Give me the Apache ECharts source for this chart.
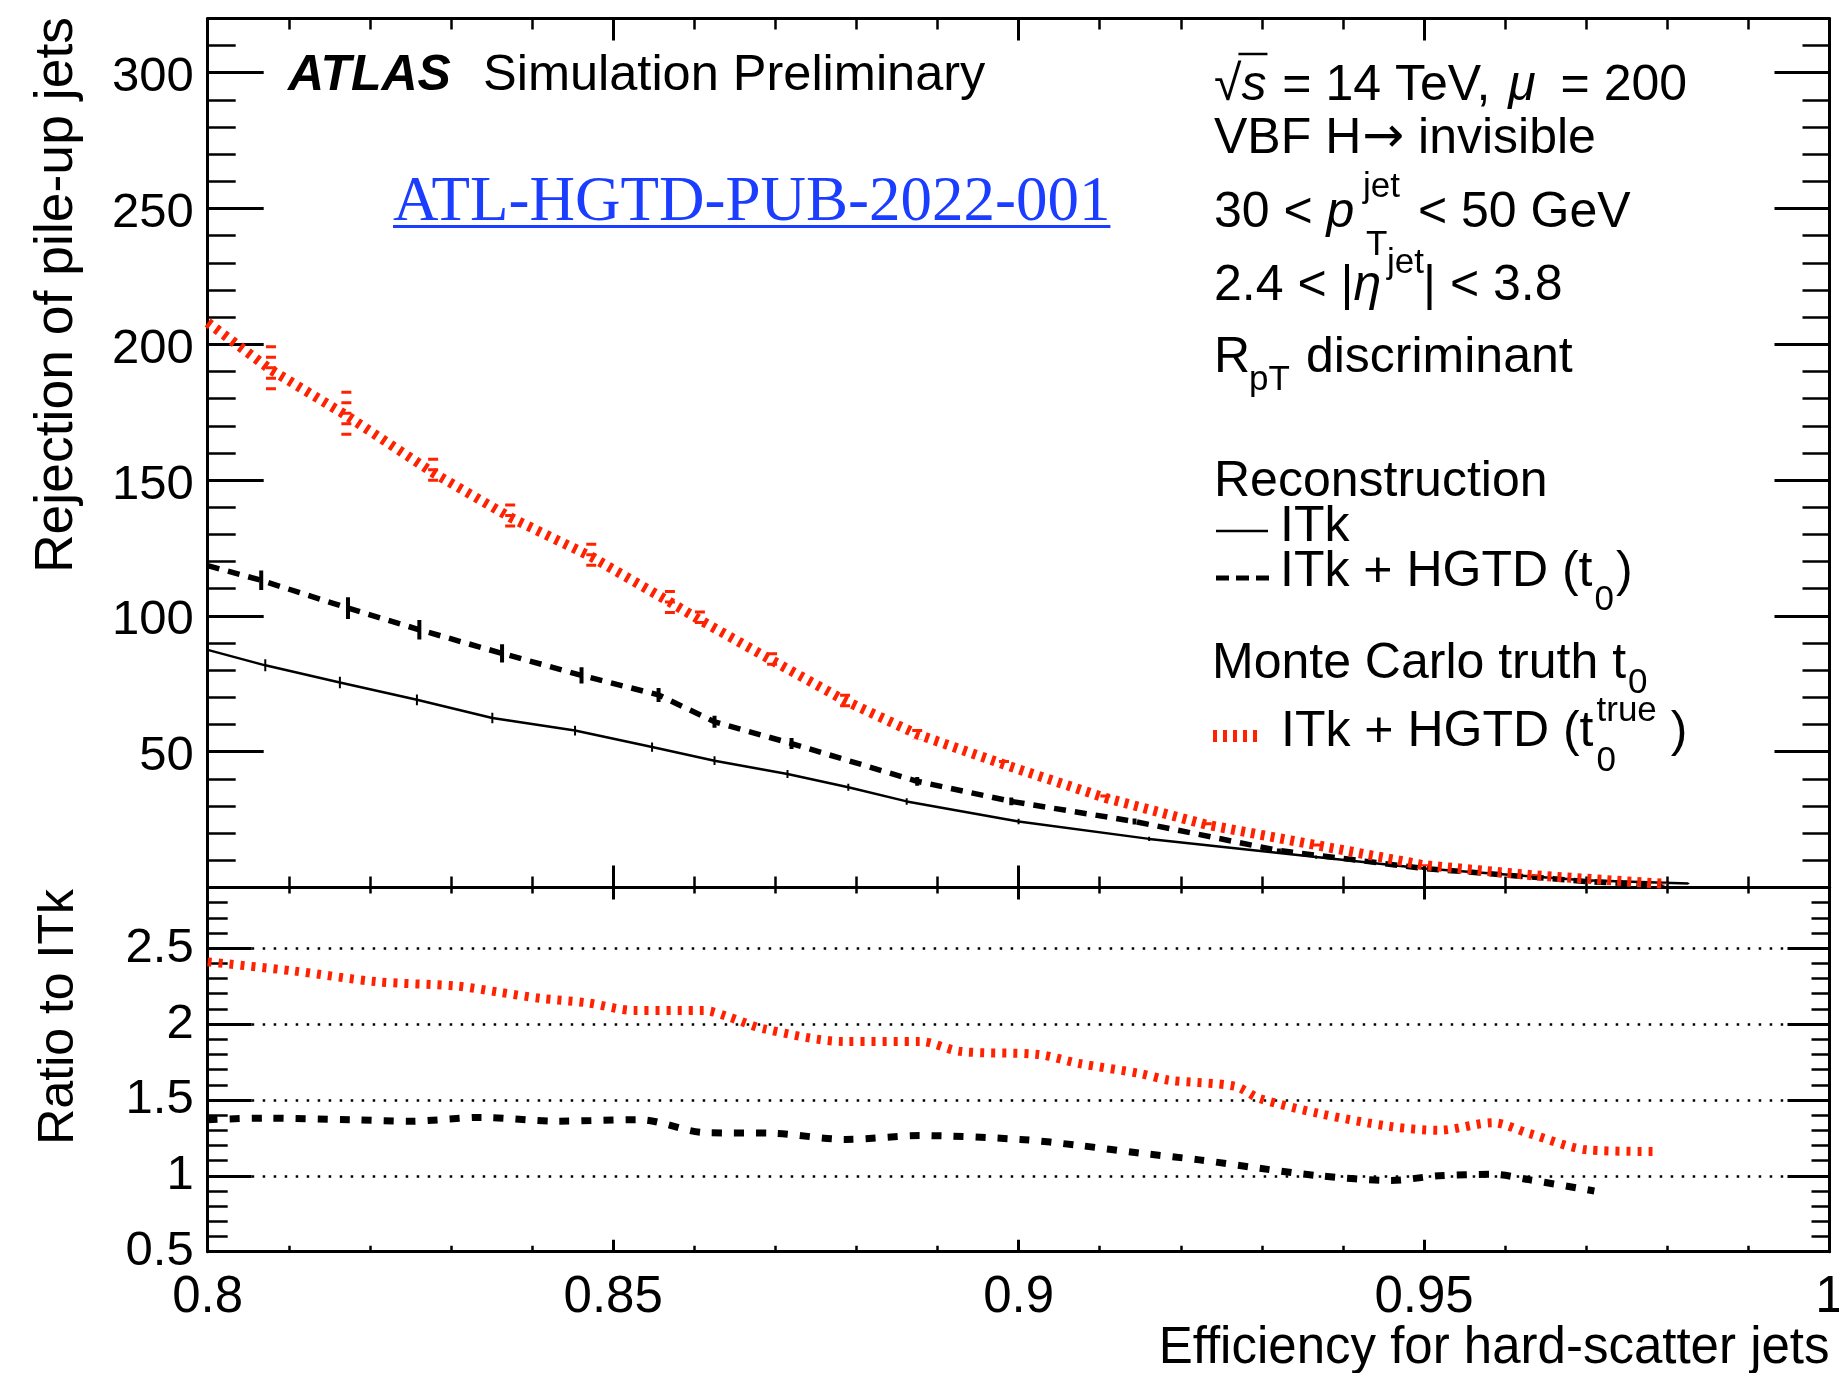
<!DOCTYPE html>
<html><head><meta charset="utf-8">
<script src="https://cdn.jsdelivr.net/npm/echarts@6.0.0/dist/echarts.min.js"></script>
<style>html,body{margin:0;padding:0;background:#fff}#c{width:1839px;height:1373px}</style>
</head><body><div id="c"></div>
<script>
// ---------------- data ----------------
// Upper panel: rejection vs efficiency
const itkX   = [0.800,0.8071,0.8163,0.8258,0.8351,0.8453,0.8548,0.8625,0.8715,0.8790,0.8862,0.9000,0.9161,0.9367,0.9500,0.9697,0.9826];
const itkY   = [87.5,81.8,75.5,69.1,62.4,57.8,51.7,46.7,41.8,36.9,31.7,24.3,17.9,11.2,7.0,2.7,1.5];
const itkErr = [0,2.2,2.1,2.0,1.9,1.8,1.7,1.6,1.5,1.3,1.2,1.0,0.8,0.6,0.5,0.3,0.2];

const hgtdX   = [0.800,0.8066,0.8173,0.8261,0.8363,0.8461,0.8556,0.8625,0.8720,0.8875,0.8991,0.9143,0.9321,0.9500,0.9705,0.9794];
const hgtdY   = [118.5,113.1,102.9,94.9,86.2,78.1,70.9,61.0,53.0,39.1,31.7,24.3,13.6,7.0,2.1,0.8];
const hgtdErr = [0,3.6,4.0,3.6,3.4,3.0,2.6,2.2,2.0,1.6,1.4,1.1,0.8,0.6,0.3,0.2];

const truthX   = [0.800,0.8078,0.8171,0.8278,0.8373,0.8473,0.8570,0.8607,0.8696,0.8786,0.8875,0.8982,0.9107,0.9232,0.9367,0.9500,0.9634,0.9794];
const truthY   = [208,190.6,173.8,152.7,136.3,121.8,105.1,98.5,83.6,68.8,56.4,45.3,33.0,23.1,15.6,8.2,4.5,1.4];
const truthErr = [0,9.1,9.1,5.5,5.1,5.1,4.4,3.5,3.0,2.5,2.0,1.6,1.2,0.9,0.6,0.4,0.3,0.2];

// Lower panel: ratio to ITk
const ratioTruthX = [0.8,0.8106,0.8207,0.8308,0.8359,0.8410,0.8468,0.8526,0.8612,0.8641,0.8685,0.8786,0.8879,0.8928,0.9024,0.9075,0.9149,0.9186,0.9267,0.9297,0.9371,0.9459,0.9518,0.9585,0.9629,0.9703,0.9788];
const ratioTruthY = [2.41,2.35,2.28,2.25,2.21,2.17,2.14,2.09,2.09,2.05,1.97,1.885,1.885,1.82,1.80,1.74,1.675,1.63,1.59,1.51,1.41,1.325,1.30,1.35,1.28,1.17,1.16];
const ratioHgtdX  = [0.8,0.807,0.8178,0.825,0.8337,0.8431,0.8533,0.8612,0.8699,0.8786,0.8879,0.9002,0.9075,0.9149,0.9223,0.9297,0.9371,0.9459,0.9518,0.9585,0.9629,0.9710];
const ratioHgtdY  = [1.37,1.38,1.37,1.36,1.385,1.36,1.37,1.285,1.28,1.24,1.265,1.24,1.20,1.15,1.105,1.05,1.00,0.97,1.00,1.01,0.975,0.90];

// axis ranges / tick labels
const xRange = [0.8, 1.0];
const xTickLabels = ['0.8','0.85','0.9','0.95','1'];
const upperRange = [0, 320];
const ratioRange = [0.5, 2.9];

// ---------------- helpers ----------------
const SANS = "'Liberation Sans', Arial, Helvetica, sans-serif";
const SERIF = "'Liberation Serif', 'Times New Roman', serif";
const DEJAVU = "'DejaVu Sans', sans-serif";
const MID = 0.27, MIDSERIF = 0.255;
const RED = '#ff2200', BLUE = '#1a3dff';
const zip = (a, b) => a.map((v, i) => [v, b[i]]);
const zip3 = (a, b, c) => a.map((v, i) => [v, b[i], c[i]]);
const fmt = v => String(+(+v).toFixed(2));

const ctx = document.createElement('canvas').getContext('2d');
function fontOf(g) { return (g.it ? 'italic ' : '') + (g.b ? 'bold ' : '') + g.s + 'px ' + (g.f || SANS); }
function textRun(x0, base, segs) {
  const els = []; let x = x0; let maxX = x0;
  segs.forEach(g => {
    g.s = g.s || 50;
    if (g.x != null) x = g.x;
    if (g.atMax) x = maxX;
    x += g.dx || 0;
    const font = fontOf(g);
    ctx.font = font;
    const w = ctx.measureText(g.t).width;
    const mid = (g.f === SERIF) ? MIDSERIF : MID;
    els.push({ type: 'text', x: x, y: base + (g.dy || 0) - mid * g.s, silent: true, z: 50,
      style: { text: g.t, font: font, fill: g.c || '#000', align: 'left', verticalAlign: 'middle',
               textAlign: 'left', textVerticalAlign: 'middle' } });
    g._x0 = x; g._x1 = x + w;
    maxX = Math.max(maxX, x + w);
    if (!g.keep) x += w;
  });
  return els;
}
function hline(x1, x2, y, color, width, dash) {
  return { type: 'line', silent: true, z: 50, shape: { x1: x1, y1: y, x2: x2, y2: y },
    style: { stroke: color, lineWidth: width, lineDash: dash || null } };
}

// ---------------- graphic texts ----------------
const graphics = [];
graphics.push(...textRun(288, 90, [{ t: 'ATLAS', b: true, it: true }, { t: 'Simulation Preliminary', x: 483, s: 50.5 }]));
const linkSeg = [{ t: 'ATL-HGTD-PUB-2022-001', f: SERIF, s: 63, c: BLUE }];
graphics.push(...textRun(393, 220, linkSeg));
graphics.push(hline(linkSeg[0]._x0, linkSeg[0]._x1, 226.5, BLUE, 3));

const l1 = [{ t: '√' }, { t: 's', it: true }, { t: ' = 14 TeV, ', dx: 2 }, { t: 'μ', it: true, dx: 4 }, { t: ' = 200', dx: 11 }];
graphics.push(...textRun(1214, 100, l1));
graphics.push(hline(l1[0]._x1 - 3, l1[1]._x1 + 1, 54, '#000', 2.5));
graphics.push(...textRun(1214, 153, [{ t: 'VBF H' }, { t: '→', f: DEJAVU, dx: 1 }, { t: ' invisible' }]));
graphics.push(...textRun(1214, 227, [{ t: '30 < ' }, { t: 'p', it: true },
  { t: 'jet', s: 35, dy: -30, x: 1363 }, { t: 'T', s: 35, dy: 28, x: 1366 }, { t: ' < 50 GeV', x: 1404 }]));
graphics.push(...textRun(1214, 300, [{ t: '2.4 < |' }, { t: 'η', it: true },
  { t: 'jet', s: 35, dy: -27, x: 1387 }, { t: '| < 3.8', x: 1423 }]));
graphics.push(...textRun(1214, 372, [{ t: 'R' }, { t: 'pT', s: 35, dy: 18, x: 1249 }, { t: ' discriminant', x: 1292 }]));

graphics.push(...textRun(1214, 496, [{ t: 'Reconstruction' }]));
graphics.push(...textRun(1280, 541, [{ t: 'ITk' }]));
graphics.push(...textRun(1280, 586, [{ t: 'ITk + HGTD (t' }, { t: '0', s: 35, dy: 24, dx: 2 }, { t: ')', dx: 2 }]));
graphics.push(...textRun(1212, 678, [{ t: 'Monte Carlo truth t' }, { t: '0', s: 35, dy: 15, dx: 2 }]));
graphics.push(...textRun(1281, 746, [{ t: 'ITk + HGTD (t' }, { t: 'true', s: 35, dy: -25, dx: 3, keep: true },
  { t: '0', s: 35, dy: 25 }, { t: ' )', atMax: true }]));

// legend samples
graphics.push(hline(1216, 1268, 531, '#000', 2.5));
graphics.push(hline(1216, 1270, 578, '#000', 5, [13, 7]));
graphics.push(hline(1213, 1262, 736, RED, 12, [4, 6]));

// axis titles
graphics.push({ type: 'text', x: 57, y: 17, rotation: Math.PI / 2, silent: true, z: 50,
  style: { text: 'Rejection of pile-up jets', font: '53.5px ' + SANS, fill: '#000', align: 'right', verticalAlign: 'middle',
           textAlign: 'right', textVerticalAlign: 'middle' } });
graphics.push({ type: 'text', x: 59, y: 889, rotation: Math.PI / 2, silent: true, z: 50,
  style: { text: 'Ratio to ITk', font: '50px ' + SANS, fill: '#000', align: 'right', verticalAlign: 'middle',
           textAlign: 'right', textVerticalAlign: 'middle' } });
graphics.push({ type: 'text', x: 1829.5, y: 1363 - MID * 51, silent: true, z: 50,
  style: { text: 'Efficiency for hard-scatter jets', font: '51px ' + SANS, fill: '#000', align: 'right', verticalAlign: 'middle',
           textAlign: 'right', textVerticalAlign: 'middle' } });

// ---------------- axes ----------------
const LBL = { fontFamily: SANS, fontSize: 49, color: '#000' };
function xAx(grid, pos, tl, ml, labels) {
  return { type: 'value', gridIndex: grid, position: pos, min: xRange[0], max: xRange[1], interval: 0.05,
    axisLine: { show: true, onZero: false, lineStyle: { color: '#000', width: 3 } },
    axisTick: { show: true, inside: true, length: tl, lineStyle: { color: '#000', width: 3 } },
    minorTick: { show: true, splitNumber: 5, length: ml, lineStyle: { color: '#000', width: 2.5 } },
    splitLine: { show: false }, minorSplitLine: { show: false },
    axisLabel: Object.assign({}, LBL, { show: labels, margin: 21, fontSize: 51, showMinLabel: true, showMaxLabel: true,
      formatter: v => xTickLabels[Math.round((v - xRange[0]) / 0.05)] || fmt(v) }) };
}
function yAx(grid, pos, range, interval, tl, lineShow, labels, extra) {
  return Object.assign({ type: 'value', gridIndex: grid, position: pos, min: range[0], max: range[1], interval: interval,
    axisLine: { show: lineShow, onZero: false, lineStyle: { color: '#000', width: 3 } },
    axisTick: { show: true, inside: true, length: tl, lineStyle: { color: '#000', width: (interval === 50 || interval === 0.5) ? 3 : 2.5 } },
    minorTick: { show: false }, splitLine: { show: false },
    axisLabel: Object.assign({ show: labels, margin: 14, formatter: v => fmt(v) }, LBL) }, extra || {});
}

const option = {
  animation: false,
  backgroundColor: '#fff',
  grid: [
    { left: 207.7, right: 9.5, top: 18.4, height: 869.1, containLabel: false, outerBoundsMode: 'none' },
    { left: 207.7, right: 9.5, top: 887.5, height: 364.2, containLabel: false, outerBoundsMode: 'none' }
  ],
  xAxis: [
    xAx(0, 'bottom', 22, 11, false),
    xAx(0, 'top', 22, 11, false),
    xAx(1, 'bottom', 12, 6, true),
    xAx(1, 'top', 12, 6, false)
  ],
  yAxis: [
    yAx(0, 'left', upperRange, 50, 56, true, true, { axisLabel: Object.assign({ show: true, margin: 14, showMinLabel: false, showMaxLabel: false, formatter: v => fmt(v), verticalAlign: 'top', lineHeight: 10 }, LBL) }),
    yAx(0, 'left', upperRange, 10, 28, false, false),
    yAx(0, 'right', upperRange, 50, 55, true, false),
    yAx(0, 'right', upperRange, 10, 27, false, false),
    yAx(1, 'left', ratioRange, 0.5, 44, true, true, {
      axisLabel: Object.assign({ show: true, margin: 14, showMinLabel: true, showMaxLabel: false, formatter: v => fmt(v) }, LBL),
      splitLine: { show: true, lineStyle: { color: '#000', width: 2.5, type: [2.5, 8.5] } } }),
    yAx(1, 'left', ratioRange, 0.1, 20, false, false),
    yAx(1, 'right', ratioRange, 0.5, 42, true, false),
    yAx(1, 'right', ratioRange, 0.1, 18, false, false)
  ],
  series: [],
  graphic: { elements: graphics }
};

function errRender(color, width, dash) {
  return function (params, api) {
    const x = api.value(0), y = api.value(1), e = api.value(2);
    if (!e) return null;
    const a = api.coord([x, y + e]), b = api.coord([x, y - e]);
    return { type: 'line', shape: { x1: a[0], y1: a[1], x2: b[0], y2: b[1] },
      style: { stroke: color, lineWidth: width, lineDash: dash || null } };
  };
}
function lineSeries(name, xa, ya, xi, yi, color, width, dash, smooth, z) {
  return { type: 'line', name: name, xAxisIndex: xi, yAxisIndex: yi, data: zip(xa, ya), symbol: 'none', showSymbol: false,
    smooth: smooth, clip: true, z: z, lineStyle: { color: color, width: width, type: dash || 'solid', cap: 'butt' } };
}
function errSeries(xa, ya, ea, xi, yi, color, width, dash, z) {
  return { type: 'custom', xAxisIndex: xi, yAxisIndex: yi, data: zip3(xa, ya, ea), clip: true, z: z,
    encode: { x: 0, y: 1 }, renderItem: errRender(color, width, dash) };
}

option.series.push(
  lineSeries('ITk', itkX, itkY, 0, 0, '#000', 2.5, null, false, 3),
  errSeries(itkX, itkY, itkErr, 0, 0, '#000', 2, null, 3),
  lineSeries('ITk + HGTD (t0)', hgtdX, hgtdY, 0, 0, '#000', 5.5, [12, 9], false, 4),
  errSeries(hgtdX, hgtdY, hgtdErr, 0, 0, '#000', 4, null, 4),
  lineSeries('ITk + HGTD (t0 true)', truthX, truthY, 0, 0, RED, 10, [4, 6], false, 5),
  errSeries(truthX, truthY, truthErr, 0, 0, RED, 10, [3, 7.5], 5),
  lineSeries('Ratio HGTD', ratioHgtdX, ratioHgtdY, 2, 4, '#000', 7, [10, 12], 0.3, 4),
  lineSeries('Ratio truth', ratioTruthX, ratioTruthY, 2, 4, RED, 9, [4, 7], 0.3, 5)
);

const chart = echarts.init(document.getElementById('c'), null, { renderer: 'canvas', width: 1839, height: 1373 });
chart.setOption(option);
</script></body></html>
